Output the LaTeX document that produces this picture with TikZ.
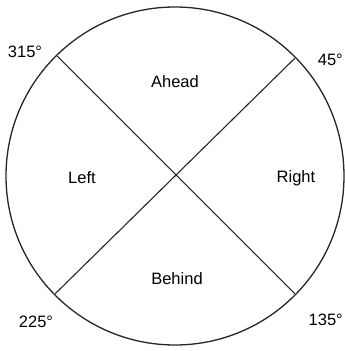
\documentclass[tikz,border=0pt]{standalone}
\usepackage{fontspec}
\setmainfont{Liberation Sans}
\usetikzlibrary{calc}

\begin{document}
\begin{tikzpicture}[
    x=1pt, y=1pt,
    every node/.style={font=\fontsize{16.5}{19}\selectfont},
    dirlabel/.style={inner sep=0pt},
    anglabel/.style={inner sep=0pt},
    rim/.style={line width=1.3pt, black!85},
    axis/.style={line width=1.1pt, black!85}
]
\useasboundingbox (0,0) rectangle (345,351);

% ============ COMPASS CIRCLE ============
\coordinate (c) at (175,175);
\draw[rim] (c) circle (169);

% Points on the rim
\coordinate (ne) at ($(c)+(44.5:168)$);
\coordinate (nw) at ($(c)+(134.5:168)$);
\coordinate (sw) at ($(c)+(224.5:168)$);
\coordinate (se) at ($(c)+(315.5:168)$);

% Diagonals
\draw[axis] (nw) -- (se);
\draw[axis] (ne) -- (sw);

% ============ DIRECTIONS ============
\node[dirlabel] (ahead) at (175,269) {Ahead};
\node[dirlabel] (behind) at (177,72) {Behind};
\node[dirlabel] (left) at (82,173) {Left};
\node[dirlabel] (right) at (296,173) {Right};

% ============ ANGLES ============
\node[anglabel] (a315) at (25,299) {315°};
\node[anglabel, anchor=east] (a45) at (343,291) {45°};
\node[anglabel] (a225) at (36,29) {225°};
\node[anglabel, anchor=east] (a135) at (343,31) {135°};

\end{tikzpicture}
\end{document}
